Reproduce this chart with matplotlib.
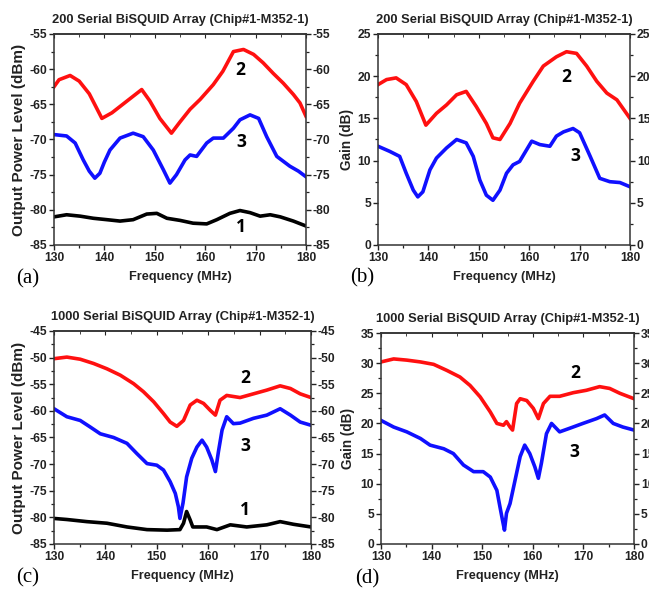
import matplotlib
matplotlib.use("Agg")
import matplotlib.pyplot as plt
from matplotlib.ticker import MultipleLocator

# ---------------- data ----------------
freq_ticks = [130, 140, 150, 160, 170, 180]

# (a) 200 serial array, output power (dBm)
a_red_f = [130, 131, 133.2, 135, 137, 139.5, 141.5, 144, 147.4, 149, 151, 153.3, 155, 157, 159,
           161.6, 163.5, 165.6, 167.6, 169.6, 171.5, 173.5, 175.5, 177.5, 178.8, 180]
a_red_v = [-62.5, -61.5, -60.9, -61.7, -63.5, -67.0, -66.2, -64.8, -62.9, -64.5, -67.0, -69.1, -67.5,
           -65.7, -64.3, -62.2, -60.3, -57.5, -57.2, -57.9, -59.1, -60.6, -62.0, -63.6, -64.8, -66.7]
a_blue_f = [130, 132.5, 134.2, 135.8, 137, 138.1, 139.1, 140, 141.1, 143.1, 145.7, 147.7, 149.7, 151.7,
            153, 154.3, 156, 157, 158.3, 160.3, 161.6, 163.6, 165.6, 166.9, 168.9, 170.6, 172.2, 174.2,
            176.8, 178.5, 180]
a_blue_v = [-69.3, -69.5, -70.5, -72.9, -74.5, -75.5, -74.8, -73.2, -71.5, -69.8, -69.1, -69.6, -71.5,
            -74.3, -76.2, -75.0, -72.9, -72.2, -72.4, -70.5, -69.8, -69.8, -68.4, -67.2, -66.5, -67.0,
            -69.6, -72.4, -73.8, -74.5, -75.3]
a_black_f = [130, 132.5, 135.2, 137.8, 140.5, 143.1, 145.7, 148.4, 150.4, 152.4, 155, 157.6, 160.3,
             162.3, 164.9, 166.9, 168.9, 170.9, 172.9, 174.9, 177.5, 180]
a_black_v = [-81.0, -80.7, -80.9, -81.2, -81.4, -81.6, -81.4, -80.6, -80.5, -81.2, -81.5, -81.9, -82.0,
             -81.4, -80.5, -80.1, -80.4, -80.9, -80.7, -81.0, -81.6, -82.3]

# (b) 200 serial array, gain (dB)
b_red_f = [130, 131.7, 133.6, 135.6, 137.6, 139.5, 141.6, 143.6, 145.6, 147.5, 149.5, 151.5, 152.8,
           154.2, 156.2, 158.1, 160.8, 162.8, 165.4, 167.4, 169.4, 171.4, 173.4, 175.4, 177.4, 180]
b_red_v = [19.0, 19.6, 19.8, 19.0, 17.0, 14.2, 15.6, 16.6, 17.8, 18.2, 16.4, 14.4, 12.7, 12.5, 14.4,
           16.8, 19.4, 21.2, 22.3, 22.9, 22.7, 21.2, 19.4, 18.0, 17.2, 15.0]
b_blue_f = [130, 132.3, 134.3, 135.6, 137, 137.9, 138.9, 140.3, 141.6, 143.6, 145.6, 147.5, 148.9, 150.2,
            151.5, 152.8, 154.2, 155.5, 156.8, 158.1, 159.5, 160.5, 162.1, 164.1, 165.4, 166.8, 168.7,
            170, 172.1, 174, 176, 178, 180]
b_blue_v = [11.7, 11.1, 10.5, 8.5, 6.5, 5.7, 6.3, 8.9, 10.3, 11.5, 12.5, 12.1, 10.5, 7.7, 5.9, 5.3, 6.5,
            8.5, 9.5, 9.9, 11.3, 12.3, 11.9, 11.7, 12.9, 13.4, 13.8, 13.3, 10.5, 7.9, 7.5, 7.4, 6.9]

# (c) 1000 serial array, output power (dBm)
c_red_f = [130, 132.5, 135.1, 137.7, 140.3, 142.9, 145.5, 147.4, 149.4, 151.3, 152.6, 153.9, 155.2,
           156.5, 157.8, 159.1, 160.4, 161.4, 162.3, 163.6, 164.9, 166.2, 168.8, 171.4, 174, 176, 177.9, 180]
c_red_v = [-50.2, -49.9, -50.3, -51.1, -52.1, -53.3, -54.9, -56.4, -58.3, -60.5, -62.1, -62.9, -61.8,
           -58.9, -58.0, -58.6, -59.9, -60.8, -58.0, -57.1, -57.3, -57.5, -56.8, -56.1, -55.3, -55.8,
           -56.8, -57.5]
c_blue_f = [130, 132.5, 135.1, 137, 139, 141.6, 144.2, 146.1, 148.1, 150, 151.3, 152.6, 153.6, 154.2,
            154.5, 155.1, 155.8, 156.8, 157.8, 158.8, 159.7, 160.7, 161.4, 162, 162.7, 163.6, 164.9,
            166.2, 168.8, 171.4, 174, 176, 177.9, 180]
c_blue_v = [-59.6, -61.1, -61.8, -63.0, -64.3, -65.0, -66.1, -68.0, -69.9, -70.2, -71.1, -73.3, -75.5,
            -78.0, -80.2, -77.3, -72.4, -68.9, -66.8, -65.5, -66.8, -69.2, -71.4, -67.6, -63.6, -61.1,
            -62.4, -62.3, -61.4, -60.8, -59.6, -60.8, -62.1, -62.7]
c_black_f = [130, 132.5, 136.4, 140.3, 144.2, 148.1, 152, 154.5, 155.2, 155.8, 156.5, 157, 159.7, 161.7,
             164.3, 167.5, 171.4, 174, 176.6, 180]
c_black_v = [-80.2, -80.4, -80.8, -81.1, -81.8, -82.3, -82.4, -82.3, -81.1, -78.9, -80.5, -81.8, -81.8,
             -82.3, -81.4, -81.8, -81.4, -80.8, -81.3, -81.8]

# (d) 1000 serial array, gain (dB)
d_red_f = [130, 132.5, 135.1, 137.8, 140.4, 143, 145.6, 147.6, 149.6, 151.6, 152.9, 154.2, 154.8, 155.5,
           156, 156.8, 157.5, 158.8, 160.1, 161.1, 162.1, 163.4, 165.3, 168, 170.6, 173.2, 175.2, 177.2, 180]
d_red_v = [30.2, 30.7, 30.5, 30.2, 29.8, 28.8, 27.7, 26.3, 24.4, 21.9, 20.0, 19.7, 20.3, 19.4, 18.9, 23.3,
           24.1, 23.8, 22.5, 20.8, 23.3, 24.5, 24.5, 25.1, 25.5, 26.1, 25.8, 25.0, 24.1]
d_blue_f = [130, 132.5, 135.1, 137.8, 139.7, 142.4, 144.3, 146.3, 148.3, 150.2, 151.6, 152.9, 153.5, 154,
            154.4, 154.8, 155.5, 156.5, 157.5, 158.4, 159.4, 160.4, 161.1, 161.7, 162.7, 163.7, 165.3,
            167.3, 169.9, 172.6, 174.2, 175.9, 177.8, 180]
d_blue_v = [20.5, 19.4, 18.6, 17.5, 16.4, 15.8, 15.0, 13.1, 12.0, 12.0, 11.1, 8.9, 6.2, 4.0, 2.3, 5.1, 6.7,
            10.6, 14.5, 16.4, 15.0, 12.8, 10.9, 13.4, 18.3, 20.0, 18.6, 19.2, 20.0, 20.8, 21.4, 20.0,
            19.4, 18.9]

titles = ["200 Serial BiSQUID Array (Chip#1-M352-1)", "200 Serial BiSQUID Array (Chip#1-M352-1)",
          "1000 Serial BiSQUID Array (Chip#1-M352-1)", "1000 Serial BiSQUID Array (Chip#1-M352-1)"]
ylabels = ["Output Power Level (dBm)", "Gain (dB)", "Output Power Level (dBm)", "Gain (dB)"]
panel_tags = ["(a)", "(b)", "(c)", "(d)"]
ylims = [(-85, -55), (0, 25), (-85, -45), (0, 35)]
ystep = [5, 5, 5, 5]

# curve labels: (text, x, y)
a_labels = [("2", 166.9, -60.1), ("3", 167.1, -70.3), ("1", 167.1, -82.4)]
b_labels = [("2", 167.3, 19.9), ("3", 169.1, 10.5)]
c_labels = [("2", 167.2, -53.9), ("3", 167.2, -66.6), ("1", 167.2, -78.6)]
d_labels = [("2", 168.3, 28.3), ("3", 168.3, 15.3)]

# ---------------- figure ----------------
W, H = 649, 591
fig = plt.figure(figsize=(W / 100, H / 100), dpi=100)
plt.rcParams['font.family'] = ['Liberation Sans', 'DejaVu Sans']
plt.rcParams['axes.unicode_minus'] = False

def box(l, r, t, b):
    return [l / W, 1 - b / H, (r - l) / W, (b - t) / H]

axes_px = [(54, 306, 34, 245), (378, 630, 34, 245), (54, 311, 331, 544), (381, 634, 333, 544)]
ylabel_x_px = [19, 347, 19, 348]
xlabel_y_px = [277, 277, 576, 576]

series = [
    [(a_red_f, a_red_v, 'red'), (a_blue_f, a_blue_v, 'blue'), (a_black_f, a_black_v, 'black')],
    [(b_red_f, b_red_v, 'red'), (b_blue_f, b_blue_v, 'blue')],
    [(c_red_f, c_red_v, 'red'), (c_blue_f, c_blue_v, 'blue'), (c_black_f, c_black_v, 'black')],
    [(d_red_f, d_red_v, 'red'), (d_blue_f, d_blue_v, 'blue')],
]
labels = [a_labels, b_labels, c_labels, d_labels]
ylabel_sizes = [11, 9.8, 11, 9.8]
tag_pos = [(28, 279), (362, 278), (28, 578), (367, 579)]
colors = {'red': '#ff1010', 'blue': '#1010ff', 'black': '#000000'}

for i, (l, r, t, b) in enumerate(axes_px):
    ax = fig.add_axes(box(l, r, t, b))
    for f, v, c in series[i]:
        ax.plot(f, v, color=colors[c], lw=2.6, solid_joinstyle='round')
    for txt, x, y in labels[i]:
        ax.text(x, y, txt, fontsize=12.5, fontweight='bold', family=['Open Sans', 'DejaVu Sans'],
                ha='center', va='center')
    ax.set_xlim(130, 180)
    ax.set_ylim(*ylims[i])
    ax.set_xticks(freq_ticks)
    ax.xaxis.set_minor_locator(MultipleLocator(5))
    ax.yaxis.set_major_locator(MultipleLocator(ystep[i]))
    ax.yaxis.set_minor_locator(MultipleLocator(ystep[i] / 2))
    ax.tick_params(axis='both', which='major', length=3.5, width=1.0, direction='out',
                   labelsize=8.7, pad=1.5, color='#222222')
    ax.tick_params(axis='both', which='minor', length=2.2, width=0.9, direction='out', color='#222222')
    ax.tick_params(axis='y', which='both', right=True, labelright=True)
    for lab in ax.get_xticklabels() + ax.get_yticklabels():
        lab.set_fontweight('bold')
        lab.set_color('#222222')
    for sp in ax.spines.values():
        sp.set_linewidth(1.1)
        sp.set_color('#333333')
    top = ax.secondary_xaxis('top')
    top.set_xticks(freq_ticks)
    top.xaxis.set_minor_locator(MultipleLocator(5))
    top.tick_params(axis='x', which='major', direction='in', length=3, labeltop=False, color='#222222')
    top.tick_params(axis='x', which='minor', direction='in', length=2, color='#222222')
    top.spines['top'].set_linewidth(1.1)
    top.spines['top'].set_color('#333333')
    ax.set_title(titles[i], fontsize=9.3, fontweight='bold', pad=8, color='#222222')
    ax.set_xlabel("Frequency (MHz)", fontsize=9.2, fontweight='bold', color='#222222')
    ax.xaxis.label.set_verticalalignment('center')
    ax.xaxis.set_label_coords(0.5, -(xlabel_y_px[i] - b) / (b - t))
    ax.set_ylabel(ylabels[i], fontsize=ylabel_sizes[i], fontweight='bold', color='#222222')
    ax.yaxis.label.set_verticalalignment('center')
    ax.yaxis.set_label_coords((ylabel_x_px[i] - l) / (r - l), 0.5)
    tx, ty = tag_pos[i]
    fig.text(tx / W, 1 - ty / H, panel_tags[i], fontsize=15, family=['Liberation Serif', 'DejaVu Serif'],
             ha='center', va='center')

fig.savefig("out.png", dpi=100)
